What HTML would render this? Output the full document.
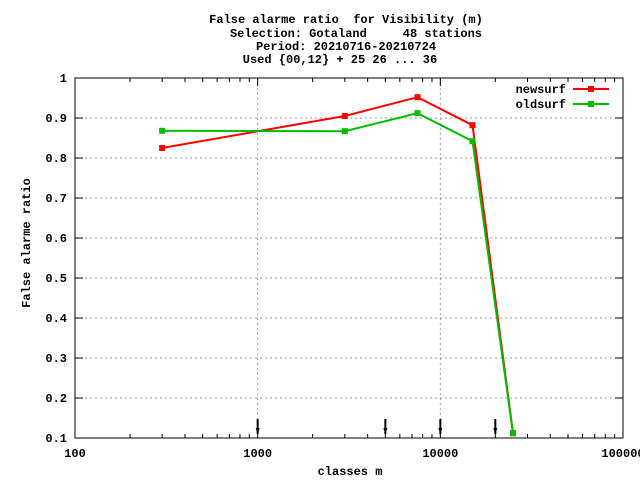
<!DOCTYPE html>
<html><head><meta charset="utf-8"><style>
body{margin:0;background:#fff}
text{font-family:"Liberation Mono","DejaVu Sans Mono",monospace;font-size:12px;font-weight:bold;fill:#000;white-space:pre}
</style></head><body>
<svg id="c" width="640" height="480" xmlns="http://www.w3.org/2000/svg">
<g>
<text x="346" y="23" text-anchor="middle" xml:space="preserve">False alarme ratio  for Visibility (m)</text>
<text x="356" y="37" text-anchor="middle" xml:space="preserve">Selection: Gotaland     48 stations</text>
<text x="346" y="50" text-anchor="middle">Period: 20210716-20210724</text>
<text x="340" y="63" text-anchor="middle">Used {00,12} + 25 26 ... 36</text>
</g>
<g id="grid"></g><g id="axes"></g><g id="series"></g>
<text x="45" y="258" text-anchor="middle" transform="rotate(-90 30 258)">False alarme ratio</text>
<text x="350" y="475" text-anchor="middle">classes m</text>
<g>
<text x="566" y="93" text-anchor="end">newsurf</text>
<line x1="573" y1="89" x2="609" y2="89" stroke="#f00" stroke-width="2"/><rect x="588" y="86" width="6" height="6" fill="#f00"/>
<text x="566" y="108" text-anchor="end">oldsurf</text>
<line x1="573" y1="104" x2="609" y2="104" stroke="#0b0" stroke-width="2"/><rect x="588" y="101" width="6" height="6" fill="#0b0"/>
</g>
</svg>
<script>
const xTicks=[100,1000,10000,100000];
const xTickLabels=["100","1000","10000","100000"];
const yTicks=[0.1,0.2,0.3,0.4,0.5,0.6,0.7,0.8,0.9,1];
const yTickLabels=["0.1","0.2","0.3","0.4","0.5","0.6","0.7","0.8","0.9","1"];
const classes=[300,3000,7500,15000,25000];
const newsurf=[0.825,0.905,0.952,0.882,0.112];
const oldsurf=[0.868,0.867,0.912,0.842,0.112];
const arrows=[1000,5000,10000,20000];
const NS="http://www.w3.org/2000/svg";
const L=75,R=623,T=78,B=438;
const X=v=>L+(Math.log10(v)-2)/3*(R-L);
const Y=v=>B-(v-0.1)/0.9*(B-T);
function mk(t,a,p){const e=document.createElementNS(NS,t);for(const k in a)e.setAttribute(k,a[k]);p.appendChild(e);return e;}
const grid=document.getElementById('grid'),axes=document.getElementById('axes'),ser=document.getElementById('series');
yTicks.forEach((v,i)=>{
 if(i>0&&i<yTicks.length-1){const g=mk('line',{x1:L,x2:R,y1:Y(v),y2:Y(v),stroke:'#999','stroke-dasharray':'2,3'},grid);
 
 }
 mk('line',{x1:L,x2:L+8,y1:Y(v),y2:Y(v),stroke:'#000'},axes);
 mk('line',{x1:R,x2:R-8,y1:Y(v),y2:Y(v),stroke:'#000'},axes);
 const t=mk('text',{x:L-8,y:Y(v)+4,'text-anchor':'end'},axes);t.textContent=yTickLabels[i];
 
 
});
xTicks.forEach((v,i)=>{
 const x=X(v);
 if(i>0&&i<xTicks.length-1){const g=mk('line',{x1:x,x2:x,y1:T,y2:B,stroke:'#999','stroke-dasharray':'2,3'},grid);
 
 }
 mk('line',{x1:x,x2:x,y1:B,y2:B-8,stroke:'#000'},axes);
 mk('line',{x1:x,x2:x,y1:T,y2:T+8,stroke:'#000'},axes);
 if(i<xTicks.length-1)for(let m=2;m<10;m++){const xm=X(v*m);
  mk('line',{x1:xm,x2:xm,y1:B,y2:B-4,stroke:'#000'},axes);mk('line',{x1:xm,x2:xm,y1:T,y2:T+4,stroke:'#000'},axes);}
 const t=mk('text',{x:x,y:B+19,'text-anchor':'middle'},axes);t.textContent=xTickLabels[i];
 
 
});
mk('rect',{x:L,y:T,width:R-L,height:B-T,fill:'none',stroke:'#000'},axes);
arrows.forEach(v=>{const x=X(v);
 const a=mk('g',{},axes);
 
 
 mk('line',{x1:x,x2:x,y1:419,y2:434,stroke:'#000','stroke-width':2},a);
 mk('path',{d:`M${x-2},428 L${x+2},428 L${x},434 Z`,fill:'#000'},a);
});
function series(vals,col,name){
 const g=mk('g',{},ser);
 
 
 mk('polyline',{points:classes.map((c,i)=>X(c)+','+Y(vals[i])).join(' '),fill:'none',stroke:col,'stroke-width':2},g);
 classes.forEach((c,i)=>{const p=mk('rect',{x:X(c)-3,y:Y(vals[i])-3,width:6,height:6,fill:col},g);
  
  });
}
series(newsurf,'#f00','newsurf');
series(oldsurf,'#0b0','oldsurf');
</script>
</body></html>
